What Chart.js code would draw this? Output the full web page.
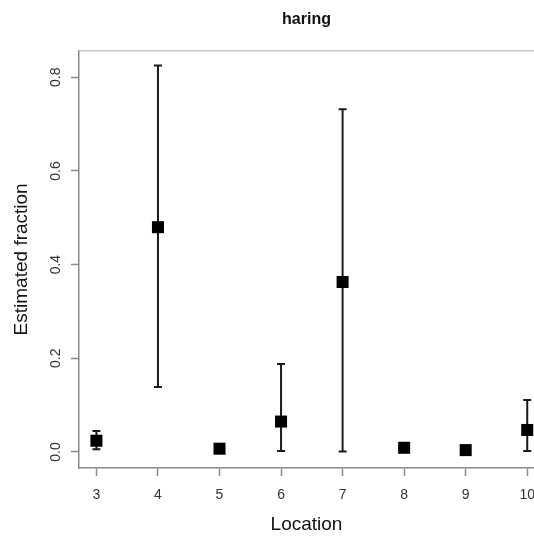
<!DOCTYPE html>
<html>
<head>
<meta charset="utf-8">
<script src="https://cdn.jsdelivr.net/npm/chart.js@4.4.1/dist/chart.umd.min.js"></script>
<style>
  html, body { margin: 0; padding: 0; background: #ffffff; }
  #wrap { width: 534px; height: 536px; }
</style>
</head>
<body>
<div id="wrap"><canvas id="c" width="534" height="536"></canvas></div>
<script>
const titleText = "haring";
const xTitle = "Location";
const yTitle = "Estimated fraction";
const locations = [3, 4, 5, 6, 7, 8, 9, 10];
const estimate = [0.024, 0.480, 0.007, 0.065, 0.363, 0.009, 0.004, 0.047];
const lower    = [0.006, 0.139, null,  0.002, 0.001, null,  null,  0.002];
const upper    = [0.045, 0.825, null,  0.188, 0.732, null,  null,  0.111];
const yTicks = [0.0, 0.2, 0.4, 0.6, 0.8];
const xTicks = locations;

const points = locations.map((x, i) => ({ x: x, y: estimate[i] }));

const errorBars = {
  id: 'errorBars',
  beforeDatasetsDraw(chart) {
    const ctx = chart.ctx;
    const xs = chart.scales.x, ys = chart.scales.y;
    ctx.save();
    ctx.strokeStyle = '#1a1a1a';
    ctx.lineWidth = 2;
    const cap = 4;
    locations.forEach((loc, i) => {
      if (lower[i] == null || upper[i] == null) return;
      const px = xs.getPixelForValue(loc);
      const pl = ys.getPixelForValue(lower[i]);
      const pu = ys.getPixelForValue(upper[i]);
      ctx.beginPath();
      ctx.moveTo(px, pl); ctx.lineTo(px, pu);
      ctx.moveTo(px - cap, pl); ctx.lineTo(px + cap, pl);
      ctx.moveTo(px - cap, pu); ctx.lineTo(px + cap, pu);
      ctx.stroke();
    });
    ctx.restore();
  }
};

const topBorder = {
  id: 'topBorder',
  afterDraw(chart) {
    const ctx = chart.ctx, a = chart.chartArea;
    ctx.save();
    ctx.strokeStyle = '#c8c8c8';
    ctx.lineWidth = 1.5;
    ctx.beginPath();
    ctx.moveTo(a.left, a.top);
    ctx.lineTo(a.right + 2, a.top);
    ctx.stroke();
    ctx.restore();
  }
};

new Chart(document.getElementById('c'), {
  type: 'scatter',
  data: {
    datasets: [{
      data: points,
      pointStyle: 'rect',
      pointRadius: 8.5,
      pointHoverRadius: 8.5,
      backgroundColor: '#000000',
      borderColor: '#000000',
      borderWidth: 0,
      clip: false
    }]
  },
  options: {
    responsive: false,
    devicePixelRatio: 1,
    animation: false,
    layout: { autoPadding: false, padding: { left: 0, right: 0, top: 0, bottom: 0 } },
    plugins: {
      legend: { display: false },
      tooltip: { enabled: false },
      title: {
        display: true,
        text: titleText,
        fullSize: false,
        color: '#111111',
        font: { family: 'Liberation Sans, Arial, sans-serif', size: 16, weight: 'bold' },
        padding: { top: 10, bottom: 21.5 }
      }
    },
    scales: {
      x: {
        type: 'linear',
        min: 2.717,
        max: 10.11,
        afterBuildTicks(scale) { scale.ticks = xTicks.map(v => ({ value: v })); },
        afterFit(scale) { scale.height = 68; scale.paddingRight = 0; scale.paddingLeft = 0; },
        ticks: {
          color: '#333333',
          padding: 10.5,
          font: { family: 'Liberation Sans, Arial, sans-serif', size: 14 },
          maxRotation: 0,
          minRotation: 0,
          callback: v => String(v)
        },
        grid: { display: true, drawOnChartArea: false, drawTicks: true, tickLength: 8, tickColor: '#8a8a8a', tickWidth: 1.5 },
        border: { display: true, color: '#8a8a8a', width: 1.5 },
        title: {
          display: true,
          text: xTitle,
          color: '#111111',
          font: { family: 'Liberation Sans, Arial, sans-serif', size: 19 },
          padding: { top: 10, bottom: 0 }
        }
      },
      y: {
        type: 'linear',
        min: -0.0342,
        max: 0.8568,
        afterBuildTicks(scale) { scale.ticks = yTicks.map(v => ({ value: v })); },
        afterFit(scale) { scale.width = 79; },
        ticks: {
          color: '#333333',
          padding: 5,
          crossAlign: 'center',
          minRotation: 90,
          maxRotation: 90,
          font: { family: 'Liberation Sans, Arial, sans-serif', size: 14 },
          callback: v => v.toFixed(1)
        },
        grid: { display: true, drawOnChartArea: false, drawTicks: true, tickLength: 8, tickColor: '#8a8a8a', tickWidth: 1.5 },
        border: { display: true, color: '#8a8a8a', width: 1.5 },
        title: {
          display: true,
          text: yTitle,
          color: '#111111',
          font: { family: 'Liberation Sans, Arial, sans-serif', size: 19 },
          padding: { top: 10, bottom: 15 }
        }
      }
    }
  },
  plugins: [errorBars, topBorder]
});
</script>
</body>
</html>
